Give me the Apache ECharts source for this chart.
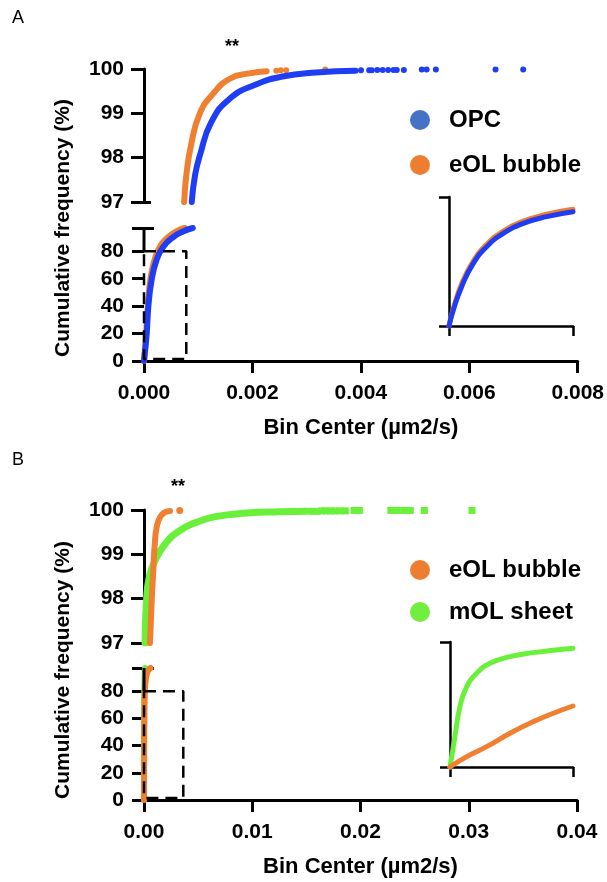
<!DOCTYPE html>
<html><head><meta charset="utf-8">
<script src="https://cdn.jsdelivr.net/npm/echarts@6/dist/echarts.min.js"></script>
<style>html,body{margin:0;padding:0;background:#fff}#c{width:607px;height:882px}</style>
</head><body><div id="c"></div>
<script>
// ---------- Panel A data (OPC vs eOL bubble) ----------
const aXTicks = [0, 0.002, 0.004, 0.006, 0.008];
const aOpcLowX  = [0, 0.00005, 0.00008, 0.00014, 0.00023, 0.00035, 0.00054, 0.00072, 0.0009];
const aOpcLowY  = [0, 20, 39.5, 59, 73.5, 83, 90.4, 94.5, 97];
const aEolLowX  = [0, 0.00004, 0.00007, 0.00012, 0.0002, 0.00031, 0.00048, 0.00062, 0.00075];
const aEolLowY  = [0, 20, 40, 60, 74.5, 84.5, 91.5, 95, 97];
const aOpcHighX = [0.00088, 0.00094, 0.00103, 0.00124, 0.00158, 0.00204, 0.00255, 0.00317, 0.0039];
const aOpcHighY = [97, 97.6, 98.05, 98.8, 99.33, 99.64, 99.83, 99.92, 99.96];
const aEolHighX = [0.00074, 0.00078, 0.00087, 0.00103, 0.00128, 0.00158, 0.00194, 0.00226];
const aEolHighY = [97, 97.6, 98.3, 99.0, 99.45, 99.78, 99.9, 99.95];
const aOpcTailX = [0.0040, 0.00415, 0.0042, 0.0043, 0.0044, 0.0045, 0.0046, 0.00466, 0.00479, 0.00512, 0.00521, 0.00538, 0.00648, 0.00699];
const aOpcTailY = [99.97, 99.97, 99.97, 99.98, 99.98, 99.98, 99.98, 99.98, 99.98, 99.99, 99.99, 99.99, 99.99, 99.99];
const aEolTailX = [0.00244, 0.00252, 0.00262, 0.00334];
const aEolTailY = [99.96, 99.97, 99.97, 99.99];
const aBoxX = [0, 0.00078, 0.00078, 0, 0];
const aBoxY = [80, 80, 1.5, 1.5, 80];
// inset A (normalised units)
const aInOpcX = [0, 0.035, 0.102, 0.196, 0.304, 0.438, 0.6, 0.788, 1.0];
const aInOpcY = [0, 0.124, 0.305, 0.486, 0.615, 0.718, 0.796, 0.848, 0.886];
const aInEolX = [0, 0.035, 0.1, 0.196, 0.304, 0.438, 0.6, 0.788, 1.0];
const aInEolY = [0, 0.135, 0.322, 0.503, 0.632, 0.736, 0.813, 0.866, 0.905];

// ---------- Panel B data (eOL bubble vs mOL sheet) ----------
const bXTicks = [0, 0.01, 0.02, 0.03, 0.04];
const bMolLowX  = [0, 0.00001, 0.00002, 0.00005, 0.0001];
const bMolLowY  = [0, 40, 70, 88, 97];
const bEolLowX  = [0, 0.00001, 0.00003, 0.00008, 0.00018, 0.00035, 0.0006];
const bEolLowY  = [0, 30, 60, 80, 89, 94.5, 97];
const bMolHighX = [0.0001, 0.00022, 0.0005, 0.0011, 0.002, 0.0032, 0.0048, 0.0066, 0.0095, 0.0125, 0.015];
const bMolHighY = [97, 97.9, 98.5, 98.9, 99.25, 99.52, 99.72, 99.85, 99.93, 99.96, 99.97];
const bEolHighX = [0.00055, 0.0007, 0.00086, 0.001, 0.00117, 0.00148, 0.00194, 0.0024];
const bEolHighY = [97, 97.9, 98.65, 99.25, 99.61, 99.84, 99.95, 99.98];
const bMolTailX = [0.0155, 0.016, 0.0164, 0.0168, 0.0172, 0.0176, 0.0181, 0.0186, 0.0194, 0.0199, 0.0228, 0.0234, 0.024, 0.0246, 0.0259, 0.0303];
const bMolTailY = [99.97, 99.97, 99.98, 99.98, 99.98, 99.98, 99.98, 99.98, 99.99, 99.99, 99.99, 99.99, 99.99, 99.99, 99.99, 99.99];
const bEolTailX = [0.0033];
const bEolTailY = [99.99];
const bBoxX = [0, 0.00363, 0.00363, 0, 0];
const bBoxY = [80, 80, 1.5, 1.5, 80];
// inset B (normalised units)
const bInMolX = [0, 0.04, 0.081, 0.136, 0.217, 0.325, 0.488, 0.678, 1.0];
const bInMolY = [0, 0.243, 0.483, 0.643, 0.75, 0.83, 0.883, 0.915, 0.95];
const bInEolX = [0, 0.136, 0.298, 0.488, 0.678, 0.84, 1.0];
const bInEolY = [0, 0.083, 0.163, 0.27, 0.363, 0.43, 0.488];

const upperTicks = [97, 98, 99, 100];
const lowerTicks = [0, 20, 40, 60, 80];

// ---------- styling ----------
const FONT = '"Liberation Sans", Arial, Helvetica, sans-serif';
const BLUE = '#1f3df2', ORANGE = '#f07f2f', GREEN = '#6af03a';
const pts = (xs, ys) => xs.map((x, i) => [x, ys[i]]);
const lab = {fontSize: 21, fontWeight: 'bold', color: '#000', fontFamily: FONT};
const legLab = Object.assign({}, lab, {fontSize: 24});
const axLine = {show: true, onZero: false, lineStyle: {color: '#000', width: 3}};

function mainX(grid, max, interval, dec) {
  return {gridIndex: grid, type: 'value', min: 0, max: max, interval: interval,
    axisLine: axLine, axisTick: {length: 12, lineStyle: {color: '#000', width: 3}},
    axisLabel: Object.assign({margin: 22, formatter: v => v.toFixed(dec)}, lab),
    splitLine: {show: false},
    name: 'Bin Center (µm2/s)', nameLocation: 'middle', nameGap: 56,
    nameTextStyle: Object.assign({}, lab, {fontSize: 22})};
}
function hiddenX(grid, max) { return {gridIndex: grid, type: 'value', min: 0, max: max, show: false}; }
function upperY(grid) {
  return {gridIndex: grid, type: 'value', min: 97, max: 100, interval: 1,
    axisLine: axLine, axisTick: {length: 13, lineStyle: {color: '#000', width: 3}},
    axisLabel: Object.assign({margin: 20}, lab), splitLine: {show: false}};
}
function lowerY(grid) {
  return {gridIndex: grid, type: 'value', min: 0, max: 97, interval: 20,
    axisLine: {show: false}, axisTick: {length: 12, lineStyle: {color: '#000', width: 3}},
    axisLabel: Object.assign({margin: 20, formatter: v => (v === 97 ? '' : String(v))}, lab),
    splitLine: {show: false}};
}
function breakY(grid, min, max, len) {
  return {gridIndex: grid, type: 'value', min: min, max: max, position: 'left',
    axisLine: {show: false}, axisLabel: {show: false}, splitLine: {show: false},
    axisTick: {show: true, inside: true, length: len, customValues: [97], lineStyle: {color: '#000', width: 3}}};
}
function insetAx(grid, inside) {
  return {gridIndex: grid, type: 'value', min: 0, max: 1, interval: 1,
    axisLine: inside ? {show: false} : {show: true, onZero: false, lineStyle: {color: '#000', width: 2.5}},
    axisTick: {show: true, inside: inside, length: inside ? 8 : 10, lineStyle: {color: '#000', width: 2.5}},
    axisLabel: {show: false}, splitLine: {show: false}};
}
function curve(name, xi, yi, data, color, w) {
  return {name: name, type: 'line', xAxisIndex: xi, yAxisIndex: yi, data: data, showSymbol: false, symbol: 'none',
    smooth: 0.5, clip: false, silent: true,
    lineStyle: {color: color, width: w, cap: 'round', join: 'round'}, itemStyle: {color: color}};
}
function dots(name, xi, yi, data, color, sym, size) {
  return {name: name, type: 'scatter', xAxisIndex: xi, yAxisIndex: yi, data: data, symbol: sym, symbolSize: size,
    clip: false, silent: true, itemStyle: {color: color, opacity: 1}};
}
function plain(xi, yi, data, dashed, w) {
  return {type: 'line', xAxisIndex: xi, yAxisIndex: yi, data: data, symbol: 'none', clip: false, silent: true, z: 3,
    lineStyle: {color: '#000', width: w, type: dashed ? [12, 7] : 'solid'}};
}

const option = {
  animation: false,
  backgroundColor: '#fff',
  grid: [
    {left: 144, top: 69, width: 434, height: 133},
    {left: 144, top: 228, width: 434, height: 133},
    {left: 449, top: 197, width: 124, height: 129},
    {left: 144, top: 510, width: 433, height: 133},
    {left: 144, top: 668, width: 433, height: 132},
    {left: 450, top: 642, width: 123, height: 125}
  ],
  xAxis: [
    hiddenX(0, 0.008), mainX(1, 0.008, 0.002, 3), insetAx(2, false), insetAx(2, true),
    hiddenX(3, 0.04), mainX(4, 0.04, 0.01, 2), insetAx(5, false), insetAx(5, true)
  ],
  yAxis: [
    upperY(0), breakY(0, 97, 100, 7), lowerY(1), breakY(1, 0, 97, 10), insetAx(2, false), insetAx(2, true),
    upperY(3), breakY(3, 97, 100, 7), lowerY(4), breakY(4, 0, 97, 10), insetAx(5, false), insetAx(5, true)
  ],
  legend: [
    {left: 410, top: 108, orient: 'vertical', icon: 'circle', itemWidth: 48, itemHeight: 20, itemGap: 21,
     selectedMode: false, padding: 0, textStyle: legLab,
     data: [{name: 'OPC', itemStyle: {color: '#4472c4'}}, {name: 'eOL bubble', itemStyle: {color: '#ed7d31'}}]},
    {left: 410, top: 558, orient: 'vertical', icon: 'circle', itemWidth: 48, itemHeight: 20, itemGap: 18,
     selectedMode: false, padding: 0, textStyle: legLab,
     data: [{name: 'eOL bubble', itemStyle: {color: '#ed7d31'}}, {name: 'mOL sheet', itemStyle: {color: '#72ee3e'}}]}
  ],
  series: [
    // Panel A
    curve('eOL bubble', 0, 0, pts(aEolHighX, aEolHighY), ORANGE, 6),
    dots('eOL bubble', 0, 0, pts(aEolTailX, aEolTailY), ORANGE, 'circle', 6),
    curve('OPC', 0, 0, pts(aOpcHighX, aOpcHighY), BLUE, 6),
    dots('OPC', 0, 0, pts(aOpcTailX, aOpcTailY), BLUE, 'circle', 6),
    curve('eOL bubble', 1, 2, pts(aEolLowX, aEolLowY), ORANGE, 6),
    curve('OPC', 1, 2, pts(aOpcLowX, aOpcLowY), BLUE, 6),
    plain(1, 2, [[0, 80], [0, 97]], false, 3),
    plain(1, 2, pts(aBoxX, aBoxY), true, 2.5),
    curve('eOL bubble', 2, 4, pts(aInEolX, aInEolY), ORANGE, 5),
    curve('OPC', 2, 4, pts(aInOpcX, aInOpcY), BLUE, 5),
    // Panel B
    curve('mOL sheet', 4, 6, pts(bMolHighX, bMolHighY), GREEN, 7),
    dots('mOL sheet', 4, 6, pts(bMolTailX, bMolTailY), GREEN, 'rect', 7),
    curve('eOL bubble', 4, 6, pts(bEolHighX, bEolHighY), ORANGE, 6),
    dots('eOL bubble', 4, 6, pts(bEolTailX, bEolTailY), ORANGE, 'circle', 7),
    curve('mOL sheet', 5, 8, pts(bMolLowX, bMolLowY), GREEN, 6),
    curve('eOL bubble', 5, 8, pts(bEolLowX, bEolLowY), ORANGE, 6),
    plain(5, 8, [[0, 80], [0, 97]], false, 3),
    plain(5, 8, pts(bBoxX, bBoxY), true, 2.5),
    curve('mOL sheet', 6, 10, pts(bInMolX, bInMolY), GREEN, 5),
    curve('eOL bubble', 6, 10, pts(bInEolX, bInEolY), ORANGE, 5)
  ],
  graphic: [
    {type: 'text', x: 12, y: 9, style: {text: 'A', font: '18px ' + FONT, fill: '#000'}},
    {type: 'text', x: 12, y: 451, style: {text: 'B', font: '18px ' + FONT, fill: '#000'}},
    {type: 'text', x: 232, y: 38, style: {text: '**', font: 'bold 18px ' + FONT, fill: '#000', align: 'center'}},
    {type: 'text', x: 178, y: 478, style: {text: '**', font: 'bold 18px ' + FONT, fill: '#000', align: 'center'}},
    {type: 'text', x: 63, y: 228, rotation: Math.PI / 2,
     style: {text: 'Cumulative frequency (%)', font: 'bold 21px ' + FONT, fill: '#000', align: 'center', verticalAlign: 'middle'}},
    {type: 'text', x: 63, y: 670, rotation: Math.PI / 2,
     style: {text: 'Cumulative frequency (%)', font: 'bold 21px ' + FONT, fill: '#000', align: 'center', verticalAlign: 'middle'}}
  ]
};
const chart = echarts.init(document.getElementById('c'), null, {renderer: 'canvas'});
chart.setOption(option);
</script></body></html>
